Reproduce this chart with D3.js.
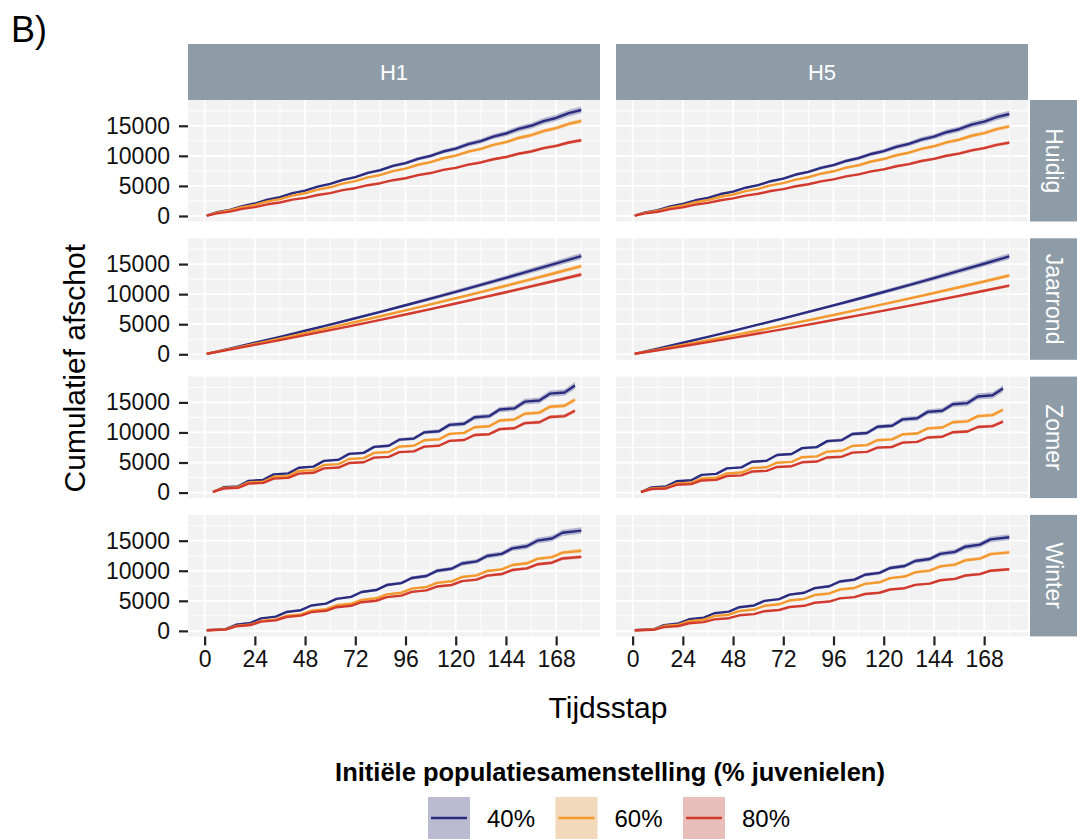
<!DOCTYPE html>
<html lang="nl">
<head>
    <meta charset="UTF-8">
    <title>Cumulatief afschot</title>
    <script src="https://d3js.org/d3.v7.min.js"></script>
    <style>
        body{
            margin: 0;
            background: white;
            font-family: "Liberation Sans", Arial, sans-serif;
        }
        svg{
            display: block;
        }
    </style>
</head>
<body>
<svg></svg>
<script>
    /* facets and groups */
    const horizons = ['H1', 'H5'];
    const scenarios = ['Huidig', 'Jaarrond', 'Zomer', 'Winter'];
    const groups = ['40%', '60%', '80%'];
    const groupColors = ['#2a2c7f', '#f4992e', '#d23a2d'];
    const ciFrac = [0.032, 0.024, 0.024];

    const xTicks = [0, 24, 48, 72, 96, 120, 144, 168];
    const xMinor = [12, 36, 60, 84, 108, 132, 156, 180];
    const yTicks = [0, 5000, 10000, 15000];
    const yMinor = [2500, 7500, 12500, 17500];

    /* time steps at which values were read, per scenario */
    const huidigSteps = [1, 6, 12, 18, 24, 30, 36, 42, 48, 54, 60, 66, 72, 78, 84, 90, 96, 102, 108, 114, 120, 126, 132, 138, 144, 150, 156, 162, 168, 174, 180];
    const jaarrondSteps = [1, 12, 24, 36, 48, 60, 72, 84, 96, 108, 120, 132, 144, 156, 168, 180];
    const zomerSteps = [4, 9, 16, 21, 28, 33, 40, 45, 52, 57, 64, 69, 76, 81, 88, 93, 100, 105, 112, 117, 124, 129, 136, 141, 148, 153, 160, 165, 172, 177];
    const winterSteps = [1, 10, 15, 22, 27, 34, 39, 46, 51, 58, 63, 70, 75, 82, 87, 94, 99, 106, 111, 118, 123, 130, 135, 142, 147, 154, 159, 166, 171, 180];

    /* cumulative harvest, H1 */
    const h1Huidig40 = [60, 620, 1020, 1650, 2070, 2710, 3130, 3790, 4220, 4890, 5330, 6010, 6460, 7160, 7620, 8320, 8790, 9510, 9990, 10720, 11210, 11950, 12450, 13210, 13710, 14480, 15000, 15780, 16300, 17100, 17630];
    const h1Huidig60 = [60, 560, 910, 1480, 1850, 2430, 2800, 3390, 3780, 4380, 4770, 5380, 5790, 6410, 6820, 7450, 7870, 8520, 8950, 9600, 10040, 10700, 11150, 11830, 12280, 12970, 13430, 14130, 14600, 15310, 15790];
    const h1Huidig80 = [60, 440, 730, 1180, 1480, 1940, 2240, 2710, 3020, 3490, 3810, 4300, 4620, 5120, 5450, 5950, 6280, 6800, 7140, 7660, 8010, 8540, 8900, 9440, 9800, 10350, 10720, 11280, 11650, 12220, 12600];

    const h1Jaarrond40 = [80, 950, 1920, 2900, 3910, 4940, 5990, 7060, 8150, 9260, 10390, 11540, 12710, 13900, 15110, 16340];
    const h1Jaarrond60 = [80, 850, 1720, 2600, 3510, 4430, 5370, 6330, 7310, 8310, 9320, 10350, 11400, 12470, 13560, 14660];
    const h1Jaarrond80 = [80, 770, 1560, 2360, 3180, 4010, 4860, 5730, 6620, 7520, 8440, 9370, 10320, 11290, 12270, 13270];

    const h1Zomer40 = [100, 890, 1040, 1950, 2110, 3030, 3200, 4140, 4310, 5270, 5450, 6430, 6600, 7600, 7780, 8800, 8980, 10020, 10200, 11260, 11450, 12520, 12710, 13810, 14000, 15120, 15310, 16450, 16650, 17800];
    const h1Zomer60 = [100, 770, 910, 1690, 1830, 2630, 2780, 3600, 3740, 4580, 4730, 5580, 5730, 6600, 6750, 7640, 7790, 8700, 8850, 9770, 9930, 10870, 11030, 11990, 12150, 13120, 13290, 14280, 14450, 15450];
    const h1Zomer80 = [100, 680, 800, 1490, 1610, 2320, 2440, 3160, 3290, 4030, 4160, 4910, 5040, 5810, 5940, 6720, 6860, 7650, 7790, 8600, 8740, 9570, 9710, 10550, 10700, 11550, 11700, 12570, 12720, 13600];

    const h1Winter40 = [100, 290, 1020, 1320, 2070, 2370, 3130, 3440, 4220, 4530, 5330, 5650, 6470, 6790, 7620, 7950, 8800, 9130, 9990, 10330, 11210, 11560, 12450, 12810, 13720, 14070, 15000, 15370, 16310, 16680];
    const h1Winter60 = [100, 230, 820, 1050, 1650, 1890, 2500, 2750, 3370, 3620, 4260, 4510, 5160, 5420, 6080, 6350, 7020, 7290, 7980, 8250, 8950, 9230, 9950, 10230, 10950, 11240, 11980, 12270, 13020, 13320];
    const h1Winter80 = [100, 210, 750, 970, 1530, 1750, 2310, 2540, 3120, 3340, 3940, 4170, 4770, 5010, 5620, 5870, 6490, 6740, 7380, 7630, 8270, 8530, 9190, 9450, 10120, 10390, 11070, 11340, 12040, 12310];

    /* cumulative harvest, H5 */
    const h5Huidig40 = [60, 600, 980, 1590, 1990, 2610, 3010, 3650, 4060, 4700, 5130, 5780, 6210, 6890, 7330, 8000, 8460, 9150, 9610, 10310, 10780, 11500, 11980, 12710, 13190, 13930, 14430, 15180, 15680, 16450, 16960];
    const h5Huidig60 = [60, 520, 860, 1390, 1750, 2290, 2650, 3200, 3570, 4130, 4500, 5080, 5460, 6050, 6440, 7030, 7430, 8040, 8440, 9060, 9470, 10100, 10520, 11160, 11590, 12240, 12680, 13340, 13780, 14450, 14900];
    const h5Huidig80 = [60, 430, 710, 1140, 1430, 1880, 2170, 2620, 2920, 3380, 3690, 4160, 4470, 4950, 5270, 5760, 6080, 6580, 6910, 7420, 7760, 8270, 8620, 9140, 9490, 10020, 10380, 10920, 11280, 11830, 12200];

    const h5Jaarrond40 = [80, 940, 1910, 2890, 3900, 4930, 5970, 7040, 8120, 9230, 10360, 11500, 12670, 13860, 15060, 16290];
    const h5Jaarrond60 = [80, 760, 1540, 2330, 3140, 3960, 4800, 5660, 6530, 7420, 8330, 9250, 10190, 11140, 12110, 13100];
    const h5Jaarrond80 = [80, 660, 1340, 2030, 2730, 3450, 4190, 4930, 5700, 6470, 7260, 8060, 8880, 9710, 10560, 11420];

    const h5Zomer40 = [100, 860, 1020, 1890, 2050, 2950, 3110, 4030, 4190, 5130, 5290, 6250, 6410, 7390, 7560, 8550, 8730, 9740, 9910, 10940, 11120, 12170, 12360, 13420, 13610, 14690, 14880, 15990, 16180, 17300];
    const h5Zomer60 = [100, 690, 810, 1510, 1630, 2350, 2470, 3200, 3330, 4080, 4210, 4970, 5110, 5880, 6020, 6810, 6950, 7750, 7890, 8710, 8850, 9690, 9830, 10680, 10830, 11700, 11850, 12720, 12880, 13770];
    const h5Zomer80 = [100, 590, 690, 1290, 1400, 2010, 2120, 2750, 2860, 3500, 3610, 4260, 4380, 5040, 5160, 5840, 5960, 6650, 6770, 7470, 7590, 8310, 8430, 9160, 9290, 10030, 10160, 10910, 11050, 11810];

    const h5Winter40 = [100, 270, 950, 1230, 1930, 2210, 2930, 3210, 3940, 4230, 4980, 5280, 6030, 6340, 7110, 7420, 8210, 8520, 9330, 9650, 10460, 10790, 11620, 11950, 12800, 13140, 14000, 14340, 15220, 15570];
    const h5Winter60 = [100, 220, 800, 1030, 1620, 1850, 2450, 2690, 3300, 3550, 4170, 4420, 5060, 5310, 5960, 6220, 6880, 7140, 7820, 8080, 8770, 9040, 9740, 10020, 10730, 11010, 11740, 12020, 12760, 13050];
    const h5Winter80 = [100, 180, 630, 810, 1270, 1450, 1920, 2110, 2590, 2780, 3270, 3470, 3970, 4170, 4680, 4880, 5400, 5610, 6130, 6340, 6880, 7100, 7650, 7860, 8420, 8640, 9210, 9430, 10010, 10240];

    const stepsByScenario = {Huidig: huidigSteps, Jaarrond: jaarrondSteps, Zomer: zomerSteps, Winter: winterSteps};
    const valuesByPanel = {
        'H1|Huidig': [h1Huidig40, h1Huidig60, h1Huidig80],
        'H1|Jaarrond': [h1Jaarrond40, h1Jaarrond60, h1Jaarrond80],
        'H1|Zomer': [h1Zomer40, h1Zomer60, h1Zomer80],
        'H1|Winter': [h1Winter40, h1Winter60, h1Winter80],
        'H5|Huidig': [h5Huidig40, h5Huidig60, h5Huidig80],
        'H5|Jaarrond': [h5Jaarrond40, h5Jaarrond60, h5Jaarrond80],
        'H5|Zomer': [h5Zomer40, h5Zomer60, h5Zomer80],
        'H5|Winter': [h5Winter40, h5Winter60, h5Winter80]
    };

    /* layout */
    const width = 1077, height = 839;
    const colX = [188, 616];
    const panelW = 412;
    const panelH = 121.5;
    const rowTop0 = 100;
    const rowStep = 138.3;
    const stripTop = 44;
    const rightStripX = 1030;

    const svg = d3.select('svg')
        .attr('width', width)
        .attr('height', height);

    /* build series with points */
    const series = [];
    horizons.forEach(h => {
        scenarios.forEach(s => {
            valuesByPanel[h + '|' + s].forEach((vals, g) => {
                series.push({
                    h: h, s: s, g: g,
                    points: stepsByScenario[s].map((t, i) => ({t: t, v: vals[i]}))
                });
            });
        });
    });

    /* scales (shared, with 5% expansion like ggplot) */
    const xMin = d3.min(series, d => d3.min(d.points, p => p.t));
    const xMax = d3.max(series, d => d3.max(d.points, p => p.t));
    const xPad = (xMax - xMin) * 0.05;
    const yMax = d3.max(series, d => d3.max(d.points, p => p.v * (1 + ciFrac[d.g])));
    const yPad = yMax * 0.05;

    const x = d3.scaleLinear().domain([xMin - xPad, xMax + xPad]).range([0, panelW]);
    const y = d3.scaleLinear().domain([-yPad, yMax + yPad]).range([panelH, 0]);

    const line = d3.line().x(d => x(d.t)).y(d => y(d.v));

    /* title tag */
    svg.append('text')
        .attr('x', 11)
        .attr('y', 42)
        .attr('font-size', 36)
        .attr('fill', '#000')
        .text('B)');

    /* top strips */
    horizons.forEach((h, c) => {
        svg.append('rect')
            .attr('x', colX[c]).attr('y', stripTop)
            .attr('width', panelW).attr('height', rowTop0 - stripTop)
            .attr('fill', '#8d9ca7');
        svg.append('text')
            .attr('x', colX[c] + panelW / 2)
            .attr('y', (stripTop + rowTop0) / 2)
            .attr('text-anchor', 'middle')
            .attr('dominant-baseline', 'central')
            .attr('font-size', 22)
            .attr('fill', 'white')
            .text(h);
    });

    /* right strips */
    scenarios.forEach((s, r) => {
        const top = rowTop0 + r * rowStep;
        svg.append('rect')
            .attr('x', rightStripX).attr('y', top)
            .attr('width', width - rightStripX).attr('height', panelH)
            .attr('fill', '#8d9ca7');
        svg.append('text')
            .attr('transform', `translate(${rightStripX + (width - rightStripX) / 2},${top + panelH / 2}) rotate(90)`)
            .attr('text-anchor', 'middle')
            .attr('dominant-baseline', 'central')
            .attr('font-size', 23)
            .attr('fill', 'white')
            .text(s);
    });

    /* panels */
    horizons.forEach((h, c) => {
        scenarios.forEach((s, r) => {
            const top = rowTop0 + r * rowStep;
            const panel = svg.append('g').attr('transform', `translate(${colX[c]},${top})`);
            const clipId = `clip-${h}-${s}`;
            panel.append('clipPath').attr('id', clipId)
                .append('rect').attr('width', panelW).attr('height', panelH);

            panel.append('rect')
                .attr('width', panelW).attr('height', panelH)
                .attr('fill', '#f2f2f2');

            /* grid */
            panel.selectAll('.xminor').data(xMinor).enter().append('line')
                .attr('x1', d => x(d)).attr('x2', d => x(d))
                .attr('y1', 0).attr('y2', panelH)
                .attr('stroke', 'white').attr('stroke-width', 0.9);
            panel.selectAll('.yminor').data(yMinor).enter().append('line')
                .attr('y1', d => y(d)).attr('y2', d => y(d))
                .attr('x1', 0).attr('x2', panelW)
                .attr('stroke', 'white').attr('stroke-width', 0.9);
            panel.selectAll('.xmajor').data(xTicks).enter().append('line')
                .attr('x1', d => x(d)).attr('x2', d => x(d))
                .attr('y1', 0).attr('y2', panelH)
                .attr('stroke', 'white').attr('stroke-width', 1.8);
            panel.selectAll('.ymajor').data(yTicks).enter().append('line')
                .attr('y1', d => y(d)).attr('y2', d => y(d))
                .attr('x1', 0).attr('x2', panelW)
                .attr('stroke', 'white').attr('stroke-width', 1.8);

            const inner = panel.append('g').attr('clip-path', `url(#${clipId})`);
            const panelSeries = series.filter(d => d.h === h && d.s === s);

            /* ribbons */
            inner.selectAll('.ribbon').data(panelSeries).enter().append('path')
                .attr('d', d => d3.area()
                    .x(p => x(p.t))
                    .y0(p => y(p.v * (1 - ciFrac[d.g])))
                    .y1(p => y(p.v * (1 + ciFrac[d.g])))(d.points))
                .attr('fill', d => groupColors[d.g])
                .attr('fill-opacity', 0.3);

            /* lines */
            inner.selectAll('.serie').data(panelSeries).enter().append('path')
                .attr('d', d => line(d.points))
                .attr('fill', 'none')
                .attr('stroke', d => groupColors[d.g])
                .attr('stroke-width', 2.4)
                .attr('stroke-linejoin', 'round');

            /* y axis on left column */
            if(c === 0){
                const ay = panel.append('g')
                    .call(d3.axisLeft(y).tickValues(yTicks).tickSize(9).tickPadding(9).tickFormat(d3.format('d')));
                ay.select('.domain').remove();
                ay.selectAll('line').attr('stroke', '#222').attr('stroke-width', 2.2);
                ay.selectAll('text').attr('font-size', 23).attr('font-family', '"Liberation Sans", Arial, sans-serif').attr('fill', '#111');
            }
            /* x axis on bottom row */
            if(r === scenarios.length - 1){
                const ax = panel.append('g')
                    .attr('transform', `translate(0,${panelH})`)
                    .call(d3.axisBottom(x).tickValues(xTicks).tickSize(9).tickPadding(5));
                ax.select('.domain').remove();
                ax.selectAll('line').attr('stroke', '#222').attr('stroke-width', 2.2);
                ax.selectAll('text').attr('font-size', 23).attr('font-family', '"Liberation Sans", Arial, sans-serif').attr('fill', '#111');
            }
        });
    });

    /* axis titles */
    const panelsBottom = rowTop0 + (scenarios.length - 1) * rowStep + panelH;
    svg.append('text')
        .attr('transform', `translate(85,${(rowTop0 + panelsBottom) / 2}) rotate(-90)`)
        .attr('text-anchor', 'middle')
        .attr('font-size', 30)
        .attr('fill', '#000')
        .text('Cumulatief afschot');
    svg.append('text')
        .attr('x', (colX[0] + colX[1] + panelW) / 2)
        .attr('y', 718)
        .attr('text-anchor', 'middle')
        .attr('font-size', 30)
        .attr('fill', '#000')
        .text('Tijdsstap');

    /* legend */
    svg.append('text')
        .attr('x', 610)
        .attr('y', 781)
        .attr('text-anchor', 'middle')
        .attr('font-size', 25.5)
        .attr('font-weight', 'bold')
        .attr('fill', '#000')
        .text('Initiële populatiesamenstelling (% juvenielen)');

    const legendX = 428, legendStep = 127.5, keySize = 42, keyTop = 797;
    const legend = svg.selectAll('.key').data(groups).enter().append('g')
        .attr('transform', (d, i) => `translate(${legendX + i * legendStep},${keyTop})`);
    legend.append('rect')
        .attr('width', keySize).attr('height', keySize)
        .attr('fill', '#f2f2f2');
    legend.append('rect')
        .attr('width', keySize).attr('height', keySize)
        .attr('fill', (d, i) => groupColors[i])
        .attr('fill-opacity', 0.28);
    legend.append('line')
        .attr('x1', 3).attr('x2', keySize - 3)
        .attr('y1', keySize / 2).attr('y2', keySize / 2)
        .attr('stroke', (d, i) => groupColors[i])
        .attr('stroke-width', 2.4);
    legend.append('text')
        .attr('x', keySize + 17)
        .attr('y', keySize / 2)
        .attr('dominant-baseline', 'central')
        .attr('font-size', 24)
        .attr('fill', '#000')
        .text(d => d);
</script>
</body>
</html>
